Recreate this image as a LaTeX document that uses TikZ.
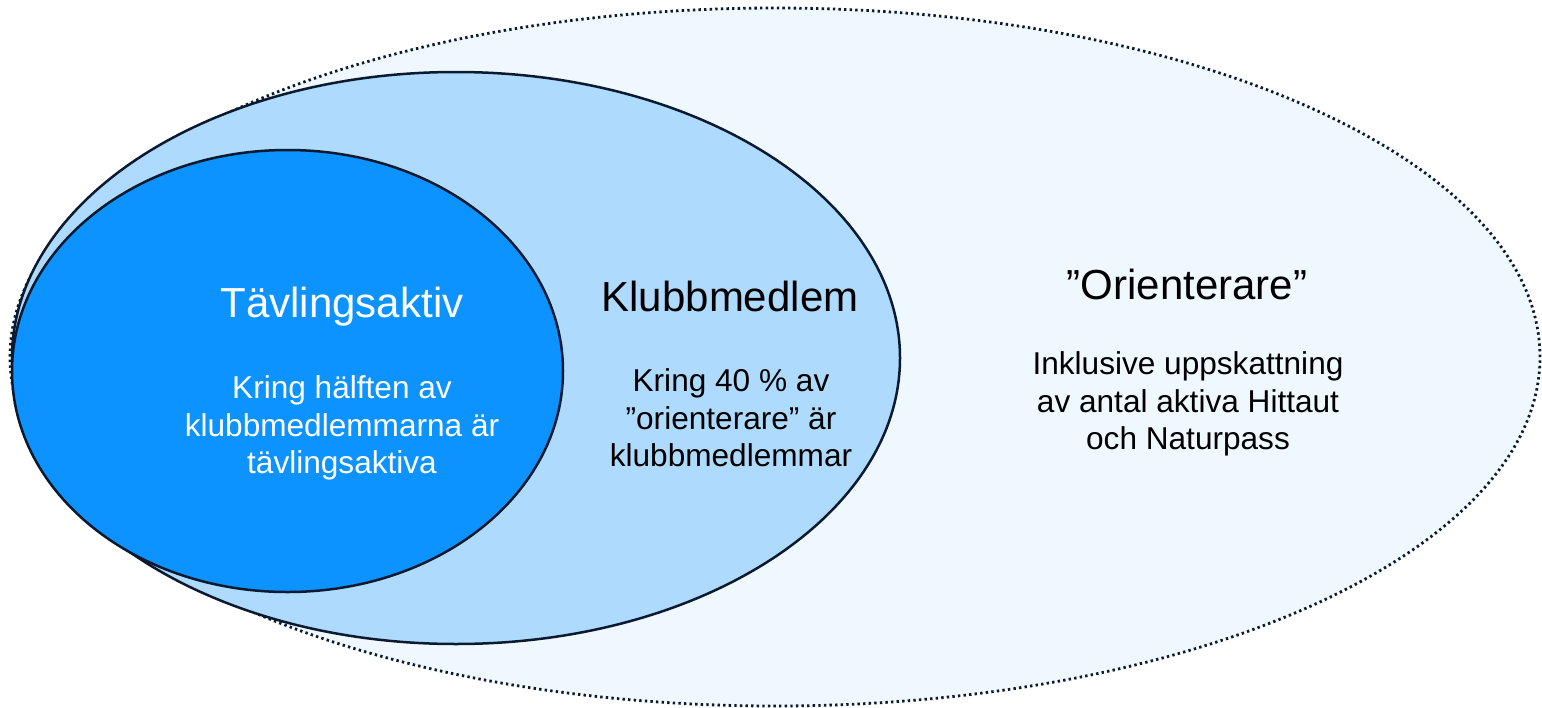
\documentclass[tikz,border=0pt]{standalone}
\usepackage{fontspec}
\setmainfont{Liberation Sans}
\usetikzlibrary{shapes.geometric}
\definecolor{ringline}{HTML}{0B1A2E}
\definecolor{orientfill}{HTML}{F0F8FF}
\definecolor{klubbfill}{HTML}{AEDAFE}
\definecolor{tavlfill}{HTML}{0C93FF}
\tikzset{
    ring/.style={ellipse, draw=ringline, inner sep=0pt, line width=1.25pt},
    outerring/.style={ring, fill=orientfill, line width=1.4pt, dash pattern=on 1.2pt off 1.6pt},
    title/.style={font=\fontsize{21}{25}\selectfont, align=center},
    note/.style={font=\fontsize{15.8}{18.7}\selectfont, align=center}
}
\begin{document}
\begin{tikzpicture}
  [
    x = 0.5pt,
    y = -0.5pt,
  ]
  \useasboundingbox (0,0) rectangle (1542,707);
  % the three rings, outermost first (sizes in pt, half a pixel each)
  \node [outerring, minimum width=765pt, minimum height=349pt] (orient) at (775,357) {};
  \node [ring, fill=klubbfill, minimum width=444pt, minimum height=286pt] (klubb) at (456,358) {};
  \node [ring, fill=tavlfill, minimum width=275.5pt, minimum height=221pt] (tavl) at (287.5,371) {};
  % texts
  \node [title, text=white] (tavltitle) at (342,307) {Tävlingsaktiv};
  \node [note, text=white] (tavlnote) at (342,428) {Kring hälften av\\klubbmedlemmarna är\\tävlingsaktiva};
  \node [title] (klubbtitle) at (730,296) {Klubbmedlem};
  \node [note] (klubbnote) at (731,418) {Kring 40 \% av\\”orienterare” är\\klubbmedlemmar};
  \node [title] (orienttitle) at (1187,284) {”Orienterare”};
  \node [note] (orientnote) at (1188,404) {Inklusive uppskattning\\av antal aktiva Hittaut\\och Naturpass};
\end{tikzpicture}
\end{document}
